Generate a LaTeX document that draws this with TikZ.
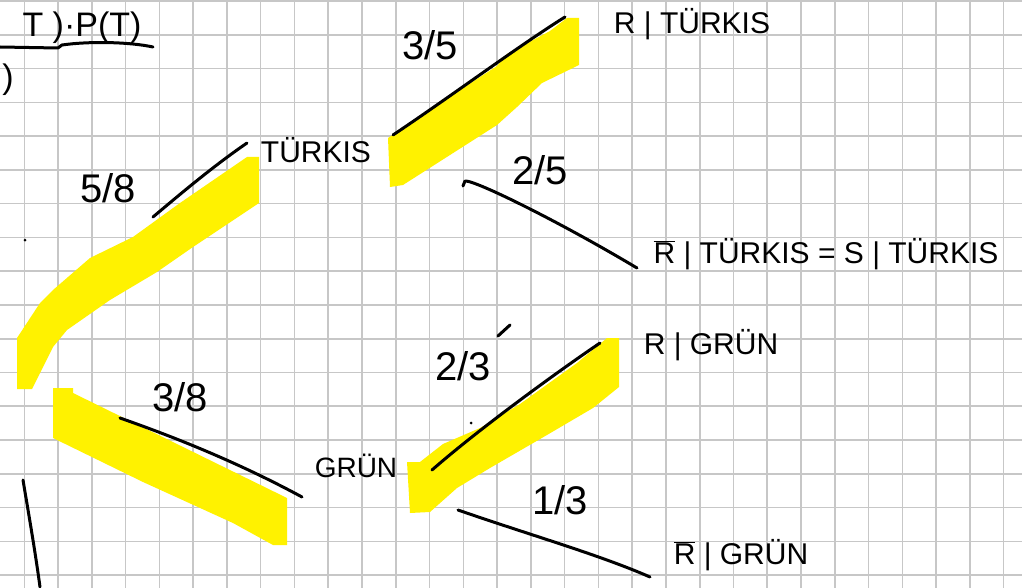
\documentclass[tikz,border=0pt]{standalone}
\usepackage{fontspec}
\setmainfont{Liberation Sans}
\begin{document}
\begin{tikzpicture}[x=1pt,y=-1pt,
  hand/.style={line width=3pt, line cap=round, line join=round},
  marker/.style={fill=yellow, draw=none},
  lbl/.style={font=\fontsize{30}{30}\selectfont, inner sep=0pt},
  frac/.style={font=\fontsize{40}{40}\selectfont, inner sep=0pt}]
\fill[white] (0,0) rectangle (1022,588);
\useasboundingbox (0,0) rectangle (1022,588);
\foreach \i in {0,...,29} \draw[black!22, line width=1.6pt] ({24.3+\i*33.77},0) -- ({24.3+\i*33.77},588);
\foreach \j in {0,...,17} \draw[black!22, line width=1.6pt] (0,{1+\j*33.77}) -- (1022,{1+\j*33.77});

\fill[marker] (17,389) -- (17,338) -- (40,303) -- (53,290) -- (90,258) -- (133,237) -- (180,203) -- (247,157) -- (259,157) -- (259,203) -- (193,247) -- (157,272) -- (110,300) -- (67,330) -- (53,347) -- (32,389) -- cycle;
\fill[marker] (53,388) -- (73,388) -- (73,393) -- (287,498) -- (287,545) -- (273,545) -- (233,523) -- (143,482) -- (53,438) -- cycle;
\fill[marker] (388,138) -- (463,88) -- (497,66) -- (507,54) -- (550,31) -- (567,18) -- (579,18) -- (579,65) -- (542,83) -- (517,107) -- (497,125) -- (403,185) -- (390,187) -- cycle;
\fill[marker] (407,462) -- (420,462) -- (443,444) -- (480,428) -- (520,404) -- (577,363) -- (607,338) -- (619,338) -- (619,387) -- (593,408) -- (547,435) -- (490,468) -- (457,488) -- (430,512) -- (410,513) -- cycle;

\node[lbl, font=\fontsize{34}{34}\selectfont] (formel) at (82,28) {T )·P(T)};
\node[lbl, font=\fontsize{34}{34}\selectfont] (klammer) at (8,80) {)};
\node[lbl] (tuerkis) at (316,150) {TÜRKIS};
\node[lbl, font=\fontsize{28}{28}\selectfont] (gruen) at (356,466) {GRÜN};
\node[lbl] (r-tuerkis) at (692,24) {R | TÜRKIS};
\node[lbl] (s-tuerkis) at (826,254) {$\overline{\hbox{R}}$ | TÜRKIS = S | TÜRKIS};
\node[lbl] (r-gruen) at (711,345) {R | GRÜN};
\node[lbl] (s-gruen) at (741,555) {$\overline{\hbox{R}}$ | GRÜN};
\node[frac] (p-t) at (108,188) {5/8};
\node[frac] (p-g) at (180,397) {3/8};
\node[frac] (p-rt) at (430,45) {3/5};
\node[frac] (p-st) at (540,170) {2/5};
\node[frac] (p-rg) at (463,366) {2/3};
\node[frac] (p-sg) at (560,500) {1/3};

\coordinate (wurzel-t) at (153,217);
\coordinate (wurzel-g) at (120,418);
\coordinate (t-ein) at (247,143);
\coordinate (g-ein) at (302,497);
\coordinate (t-aus1) at (393,135);
\coordinate (t-aus2) at (463,186);
\coordinate (g-aus1) at (432,470);
\coordinate (g-aus2) at (458,510);
\coordinate (rt-ein) at (565,17);
\coordinate (st-ein) at (637,268);
\coordinate (rg-ein) at (600,343);
\coordinate (sg-ein) at (650,577);

\draw[hand] (wurzel-t) .. controls (185,190) and (215,165) .. (t-ein);
\draw[hand] (wurzel-g) .. controls (160,432) and (230,458) .. (g-ein);
\draw[hand] (t-aus1) .. controls (450,97) and (520,45) .. (rt-ein);
\draw[hand] (t-aus2) -- (465,181) .. controls (475,180) and (560,222) .. (st-ein);
\draw[hand] (g-aus1) .. controls (480,428) and (560,370) .. (rg-ein);
\draw[hand] (g-aus2) .. controls (530,535) and (600,555) .. (sg-ein);

\draw[hand] (0,47) -- (58,48) -- (62,45) .. controls (90,41) and (130,42) .. (153,47);
\draw[hand] (23,480) .. controls (28,510) and (35,550) .. (40,587);
\draw[hand] (498,336) -- (510,325);
\fill (25,240) circle (1.5);
\fill (471,423) circle (1.5);
\end{tikzpicture}
\end{document}
